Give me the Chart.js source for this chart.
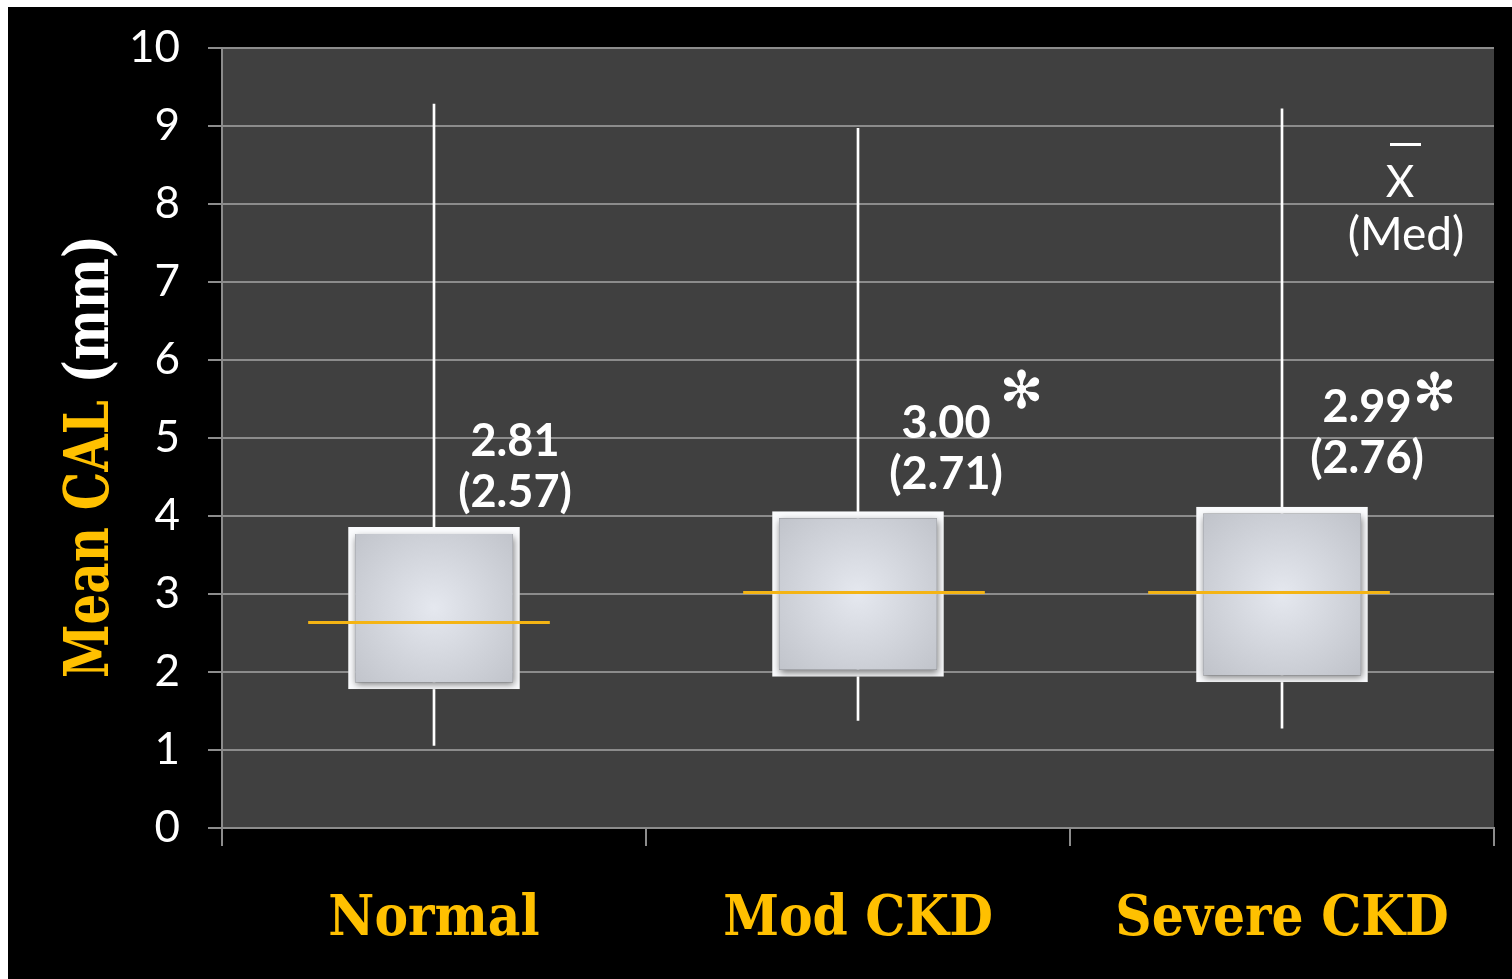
<!DOCTYPE html>
<html>
<head>
<meta charset="utf-8">
<script src="https://cdn.jsdelivr.net/npm/chart.js@4.4.1/dist/chart.umd.min.js"></script>
<style>
  html, body { margin: 0; padding: 0; background: #fff; }
  #wrap { position: absolute; left: 8px; top: 7px; width: 1504px; height: 972px; background: #000; }
</style>
</head>
<body>
<div id="wrap"><canvas id="calChart"></canvas></div>
<script>
// data
const groups = ['Normal', 'Mod CKD', 'Severe CKD'];
const whiskerLow = [1.06, 1.38, 1.28];
const whiskerHigh = [9.28, 8.97, 9.22];
const boxLow = [1.78, 1.94, 1.87];
const boxHigh = [3.86, 4.06, 4.12];
const medians = [2.64, 3.03, 3.03];
const meanLabels = ['2.81', '3.00', '2.99'];
const medianLabels = ['(2.57)', '(2.71)', '(2.76)'];
const starred = [false, true, true];

const yellow = '#ffc000';
const grid = '#8c8c8c';

// label placement, px from category centre / box top
const noteDx = [81, 88, 85];
const noteDy = [-71, -73, -85];
const starDx = [0, 31, 23];
const starDy = [0, -44, -25];
const medianShift = [-5, 6, -13];

function boxFill(context) {
  const chart = context.chart;
  const { x, y } = chart.scales;
  if (context.type !== 'data' || !x || !y || !chart.chartArea) return '#d4d7dd';
  const i = context.dataIndex;
  const cx = x.getPixelForValue(i);
  const top = y.getPixelForValue(boxHigh[i]);
  const bottom = y.getPixelForValue(boxLow[i]);
  const cy = (top + bottom) / 2;
  const g = chart.ctx.createRadialGradient(cx, cy, 0, cx, cy, 120);
  g.addColorStop(0, '#e5e8ef');
  g.addColorStop(1, '#bdc0c7');
  return g;
}

//  plot background
const backdrop = {
  id: 'backdrop',
  beforeDraw(chart) {
    const { ctx, chartArea: a } = chart;
    ctx.save();
    ctx.fillStyle = '#404040';
    ctx.fillRect(a.left, a.top, a.right - a.left, a.bottom - a.top);
    ctx.restore();
  }
};

//  shadow under the boxes
const boxShadow = {
  id: 'boxShadow',
  beforeDatasetDraw(chart, args) {
    if (args.index !== 0) return;
    const ctx = chart.ctx;
    ctx.save();
    ctx.shadowColor = 'rgba(0,0,0,0.5)';
    ctx.shadowBlur = 7;
    ctx.shadowOffsetX = 1;
    ctx.shadowOffsetY = 3;
  },
  afterDatasetDraw(chart, args) {
    if (args.index === 0) chart.ctx.restore();
  }
};

//  median lines, value notes, legend, axis title
const notes = {
  id: 'notes',
  afterDatasetsDraw(chart) {
    const { ctx, chartArea: a } = chart;
    const { x, y } = chart.scales;
    const half = x.width / groups.length * 0.285;

    ctx.save();
    ctx.strokeStyle = '#f4b414';
    ctx.lineWidth = 3;
    medians.forEach((m, i) => {
      const cx = x.getPixelForValue(i) + medianShift[i];
      const py = Math.round(y.getPixelForValue(m)) + 0.5;
      ctx.beginPath();
      ctx.moveTo(cx - half, py);
      ctx.lineTo(cx + half, py);
      ctx.stroke();
    });

    ctx.fillStyle = '#fff';
    ctx.textAlign = 'center';
    ctx.textBaseline = 'alphabetic';
    groups.forEach((g, i) => {
      const cx = x.getPixelForValue(i) + noteDx[i];
      const base = y.getPixelForValue(boxHigh[i]) + noteDy[i];
      ctx.font = 'bold 45px Lato';
      ctx.fillText(meanLabels[i], cx, base);
      ctx.fillText(medianLabels[i], cx, base + 51);
      if (starred[i]) {
        const w = ctx.measureText(meanLabels[i]).width;
        ctx.font = 'bold 52px "DejaVu Sans"';
        ctx.textBaseline = 'middle';
        ctx.fillText('\u273B', cx + w / 2 + starDx[i], base + starDy[i]);
        ctx.textBaseline = 'alphabetic';
      }
    });

    // x-bar (Med) key
    const kx = a.right - 94;
    ctx.font = '44px Lato';
    ctx.fillText('X', kx, a.top + 149);
    ctx.fillRect(kx - 10, a.top + 95, 31, 3);
    ctx.font = '46px Lato';
    ctx.fillText('(Med)', kx + 6, a.top + 202);
    ctx.restore();
  },
  afterDraw(chart) {
    const { ctx, chartArea: a } = chart;
    const parts = [['Mean CAL ', yellow], ['(mm)', '#fff']];
    ctx.save();
    ctx.translate(a.left - 114, a.bottom - 150);
    ctx.rotate(-Math.PI / 2);
    ctx.font = 'bold 62px "DejaVu Serif Condensed", "DejaVu Serif"';
    ctx.textBaseline = 'alphabetic';
    ctx.textAlign = 'left';
    const total = parts.reduce((s, p) => s + ctx.measureText(p[0]).width, 0);
    ctx.scale(443 / total, 1);
    let cx = 0;
    parts.forEach(([t, c]) => {
      ctx.fillStyle = c;
      ctx.fillText(t, cx, 0);
      cx += ctx.measureText(t).width;
    });
    ctx.restore();
  }
};

new Chart(document.getElementById('calChart'), {
  type: 'bar',
  data: {
    labels: groups,
    datasets: [
      {
        label: 'IQR',
        data: boxLow.map((v, i) => [v, boxHigh[i]]),
        backgroundColor: boxFill,
        borderColor: '#fafbfd',
        borderWidth: 7,
        borderSkipped: false,
        barPercentage: 0.405,
        categoryPercentage: 1,
        grouped: false,
        order: 1
      },
      {
        label: 'Range',
        data: whiskerLow.map((v, i) => [v, whiskerHigh[i]]),
        backgroundColor: '#fff',
        borderWidth: 0,
        barThickness: 2,
        grouped: false,
        order: 2
      }
    ]
  },
  options: {
    responsive: true,
    maintainAspectRatio: false,
    animation: false,
    events: [],
    layout: { padding: { top: 41, right: 18, left: 0, bottom: 0 } },
    plugins: {
      legend: { display: false },
      tooltip: { enabled: false }
    },
    scales: {
      x: {
        offset: true,
        grid: { display: true, offset: true, drawOnChartArea: false, color: grid, lineWidth: 2, tickLength: 18 },
        border: { display: true, color: grid, width: 2 },
        ticks: {
          color: yellow,
          padding: 41,
          font: { family: '"DejaVu Serif Condensed", "DejaVu Serif"', weight: 'bold', size: 56 }
        },
        afterFit: s => { s.height = 151; }
      },
      y: {
        min: 0,
        max: 10,
        grid: { color: grid, lineWidth: 2, tickLength: 14 },
        border: { display: true, color: grid, width: 2 },
        ticks: {
          stepSize: 1,
          color: '#fff',
          padding: 28,
          font: { family: 'Lato', size: 44 }
        },
        afterFit: s => {
          s.width = 214;
          s.paddingTop = 10;
          s.paddingBottom = 10;
        }
      }
    }
  },
  plugins: [backdrop, boxShadow, notes]
});
</script>
</body>
</html>
